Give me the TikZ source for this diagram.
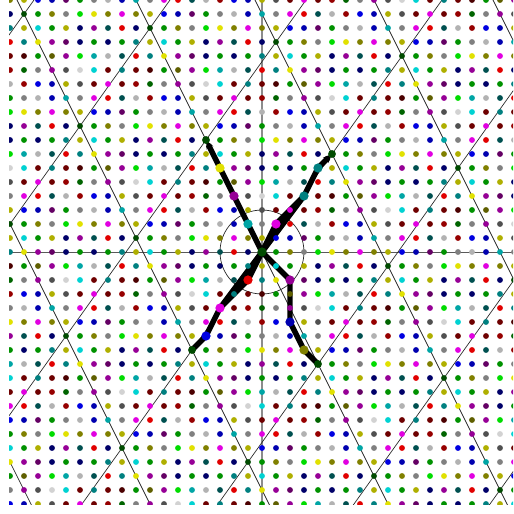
\documentclass[tikz,border=0pt]{standalone}
\usetikzlibrary{arrows.meta}
\definecolor{dkgrn}{RGB}{0,75,0}
\definecolor{dkgrnb}{RGB}{0,100,0}
\definecolor{grn}{RGB}{0,145,0}
\definecolor{lime}{RGB}{0,220,0}
\definecolor{oliv}{RGB}{128,128,0}
\definecolor{olivl}{RGB}{175,175,0}
\definecolor{olivd}{RGB}{95,95,0}
\definecolor{yel}{RGB}{225,225,0}
\definecolor{gry}{RGB}{128,128,128}
\definecolor{gryd}{RGB}{80,80,80}
\definecolor{gryl}{RGB}{178,178,178}
\definecolor{gryll}{RGB}{210,210,210}
\definecolor{nvy}{RGB}{0,0,105}
\definecolor{blud}{RGB}{0,0,175}
\definecolor{blu}{RGB}{0,0,225}
\definecolor{tea}{RGB}{0,128,128}
\definecolor{teab}{RGB}{0,165,165}
\definecolor{tead}{RGB}{0,80,80}
\definecolor{cya}{RGB}{0,210,210}
\definecolor{rd}{RGB}{225,0,0}
\definecolor{rdd}{RGB}{150,0,0}
\definecolor{mar}{RGB}{110,0,0}
\definecolor{mard}{RGB}{75,0,0}
\definecolor{mag}{RGB}{225,0,225}
\definecolor{pur}{RGB}{150,0,150}
\definecolor{purd}{RGB}{100,0,100}
\def\cosetcol{{"dkgrn","olivl","gry","gryd","gryll","lime","nvy","nvy","lime","grn",
  "gryl","rdd","mar","rd","tea","nvy","oliv","teab","olivl","gryd",
  "pur","purd","olivl","gry","purd","tead","mar","tea","tead","grn",
  "rd","mag","blud","blud","pur","olivd","pur","grn","oliv","blud",
  "rd","mag","mar","gryl","nvy","tead","oliv","gryl","blu","gry",
  "grn","yel","cya","grn","blu","mag","mar","cya","teab","grn",
  "pur","yel","gry","rdd","dkgrnb","mard","tea","olivl"}}
\newcommand{\cosetdot}[3]{%
  \pgfmathtruncatemacro\cosetidx{mod(#2-15*(#1)+1360,68)}%
  \pgfmathparse{\cosetcol[\cosetidx]}\edef\dotcol{\pgfmathresult}%
  \fill[\dotcol] (#1,#2) circle[radius=#3];}
\tikzset{
  latline/.style={black!85, line width=0.7pt},
  xaxis/.style={black!65, line width=0.9pt},
  yaxis/.style={black!45, line width=2pt},
  walk/.style={line width=5.5pt, line join=round},
  walkend/.style={-{Stealth[length=9pt,width=7.5pt]}}
}
\begin{document}
\begin{tikzpicture}[x=0.5cm,y=0.5cm]
\useasboundingbox (-18.714,-18.714) rectangle (17.929,18);
\clip (-18.07,-18.07) rectangle (17.929,18);
\coordinate (O) at (0,0);
\foreach \n/\p in {a1/{1,2},a2/{3,4},a3/{4,6},A/{5,7},na1/{-1,-2},na2/{-3,-4},na3/{-4,-6},nA/{-5,-7},
  b1/{2,-2},b2/{2,-5},b3/{3,-7},B/{4,-8},nb1/{-1,2},nb2/{-2,4},nb3/{-3,6},nB/{-4,8}}
  \coordinate (\n) at (\p);
\draw[xaxis] (-19,0) -- (19,0);
\draw[yaxis] (0,-19) -- (0,19);
\foreach \m in {-3,...,3}{
  \draw[latline] ({4*\m-20},{-8*\m-28}) -- ({4*\m+20},{-8*\m+28});
  \draw[latline] ({5*\m-16},{7*\m+32}) -- ({5*\m+16},{7*\m-32});
}
\draw[latline] (O) circle[radius=3];
\draw[walk,walkend] (O) -- (a1) -- (a2) -- (a3) -- (A);
\draw[walk] (O) -- (a2);
\draw[walk] (O) -- (na1) -- (na2) -- (na3) -- (nA);
\draw[walk] (O) -- (na2);
\draw[walk] (O) -- (b1) -- (b2) -- (b3) -- (B);
\draw[walk,walkend] (O) -- (nb1) -- (nb2) -- (nb3) -- (nB);
\foreach \x in {-18,...,18}
  \foreach \y in {-18,...,18}
    \cosetdot{\x}{\y}{0.21};
\foreach \x/\y in {1/2,3/4,4/6,-1/-2,-3/-4,-4/-6,2/-2,2/-5,3/-7,-1/2,-2/4,-3/6}
  \cosetdot{\x}{\y}{0.33};
\foreach \x/\y in {5/7,-5/-7,4/-8,-4/8}
  \cosetdot{\x}{\y}{0.28};
\cosetdot{0}{0}{0.33}
\end{tikzpicture}
\end{document}
